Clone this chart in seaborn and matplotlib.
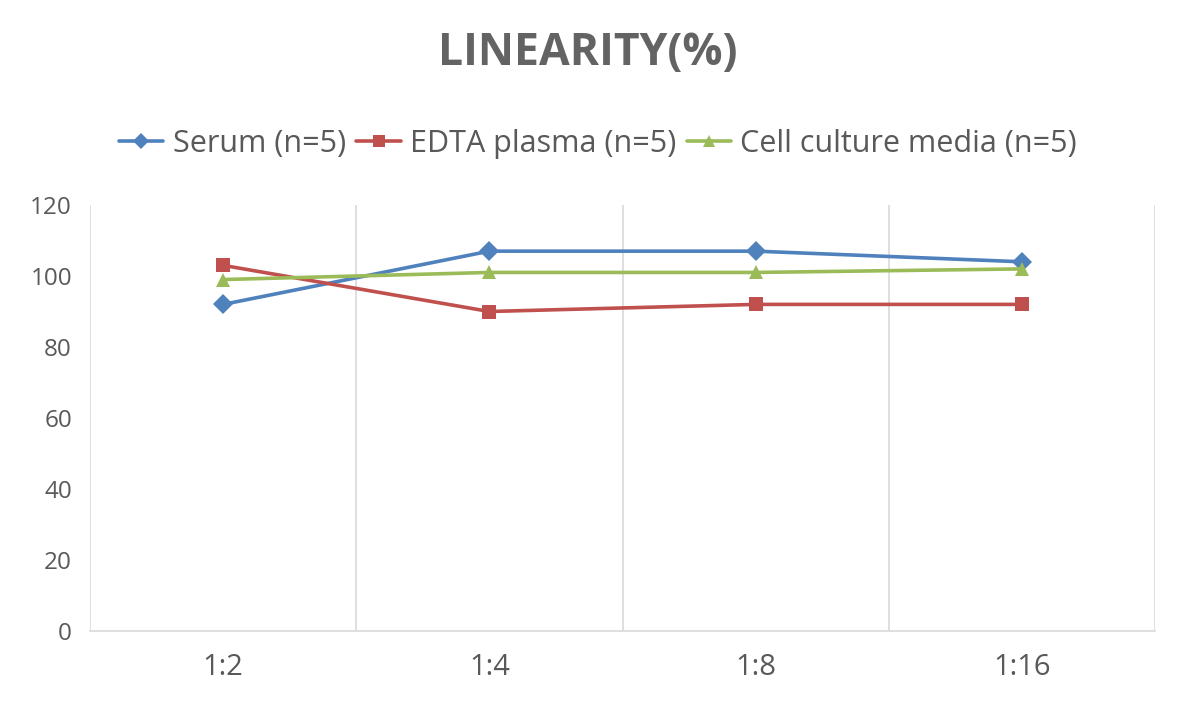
import matplotlib
matplotlib.use("Agg")
import matplotlib.pyplot as plt
import seaborn as sns
import pandas as pd

categories = ["1:2", "1:4", "1:8", "1:16"]
serum = [92, 107, 107, 104]
edta = [103, 90, 92, 92]
cell = [99, 101, 101, 102]
series_names = ["Serum (n=5)", "EDTA plasma (n=5)", "Cell culture media (n=5)"]
colors = ["#4F81BD", "#C0504D", "#9BBB59"]
markers = ["D", "s", "^"]

rows = []
for name, vals in zip(series_names, [serum, edta, cell]):
    for i, (c, v) in enumerate(zip(categories, vals)):
        rows.append({"x": i, "cat": c, "value": v, "series": name})
df = pd.DataFrame(rows)

sns.set_theme(style="white")
plt.rcParams['font.family'] = ['Open Sans', 'DejaVu Sans']

fig = plt.figure(figsize=(11.79, 7.05), dpi=100)
ax = fig.add_axes([90/1179, 1-631/705, (1155-90)/1179, (631-205)/705])

sns.lineplot(data=df, x="x", y="value", hue="series", style="series",
             palette=colors, markers=markers, dashes=False, linewidth=2.6,
             markersize=10, markeredgewidth=0, ax=ax, legend=True)

ax.set_xlim(-0.5, 3.5)
ax.set_ylim(0, 120)
ax.set_xticks(range(len(categories)))
ax.set_xticklabels(categories)
ax.set_xticks([-0.5, 0.5, 1.5, 2.5, 3.5], minor=True)
ax.set_yticks(range(0, 121, 20))
ax.grid(False)
ax.grid(True, which="minor", axis="x", color="#d9d9d9", linewidth=1.2)
ax.tick_params(axis="both", which="both", length=0, labelcolor="#595959")
ax.tick_params(axis="x", labelsize=21, pad=16)
ax.tick_params(axis="y", labelsize=17.5, pad=13)
for s in ["top", "right", "left"]:
    ax.spines[s].set_visible(False)
ax.spines["bottom"].set_color("#d9d9d9")
ax.spines["bottom"].set_linewidth(1.2)
ax.set_xlabel("")
ax.set_ylabel("")

handles, labels = ax.get_legend_handles_labels()
leg = ax.legend(handles, labels, loc="center", bbox_to_anchor=(598/1179, 1-144/705),
                bbox_transform=fig.transFigure, ncol=3, frameon=False,
                fontsize=22, handlelength=1.45, handletextpad=0.3, columnspacing=0.35,
                labelcolor="#595959")
for h in leg.get_lines():
    h.set_markersize(8)
    h.set_linewidth(2.6)

fig.text(588/1179, 1-54/705, "LINEARITY(%)", ha="center", va="center",
         fontsize=32, fontweight="bold", color="#636363")

fig.savefig("out.png", dpi=100, facecolor="white")
